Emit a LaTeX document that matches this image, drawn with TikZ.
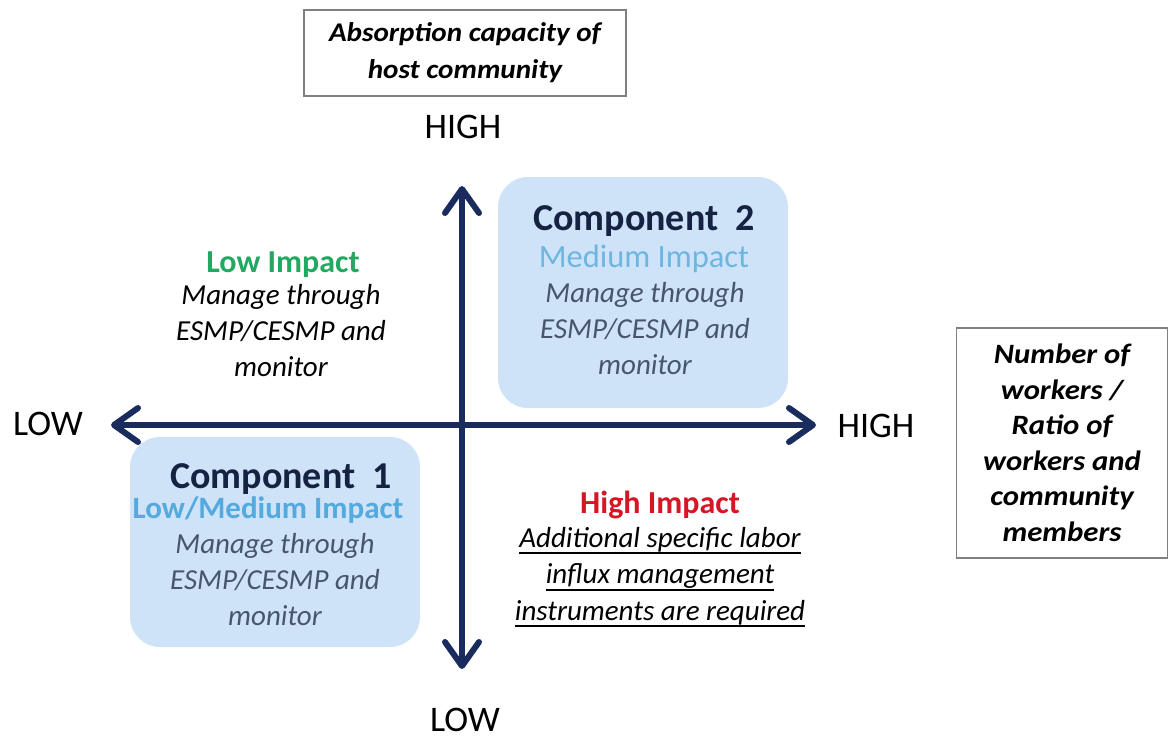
\documentclass[tikz,border=0pt]{standalone}
\usepackage{fontspec}
\setmainfont{Carlito}
\newfontfamily\absfont[FakeStretch=1.08]{Carlito}
\newfontfamily\wrkfont[FakeStretch=1.1]{Carlito}
\usetikzlibrary{arrows.meta}
\definecolor{navy}{RGB}{26,44,94}
\definecolor{titlenavy}{RGB}{22,34,66}
\definecolor{boxfill}{RGB}{206,226,248}
\definecolor{lightimp}{RGB}{110,182,224}
\definecolor{midimp}{RGB}{84,170,222}
\definecolor{descgray}{RGB}{72,86,108}
\definecolor{lowgreen}{RGB}{34,168,96}
\definecolor{highred}{RGB}{214,22,36}
\definecolor{framegray}{RGB}{128,128,128}
\newcommand{\myul}[1]{\setbox0\hbox{#1}\rlap{\rule[-7pt]{\wd0}{1.8pt}}\box0}
\begin{document}
\begin{tikzpicture}[x=1pt,y=-1pt,
  axis/.style={line width=6pt, draw=navy, line cap=round,
    {Straight Barb[length=24pt,width=34pt,line join=round,line cap=round]}-{Straight Barb[length=24pt,width=34pt,line join=round,line cap=round]}},
  axislabel/.style={anchor=base, inner sep=0pt, font=\fontsize{36}{40}\selectfont},
  framebox/.style={draw=framegray, line width=1.5pt, fill=white, align=center, inner sep=0pt},
  compbox/.style={fill=boxfill, draw=none, rounded corners=30pt, inner sep=0pt},
  comptitle/.style={anchor=base, inner sep=0pt, text=titlenavy, font=\fontsize{38}{40}\selectfont\bfseries},
  impact/.style={anchor=base, inner sep=0pt},
  desc/.style={align=center, inner sep=0pt}
]
\useasboundingbox (0,0) rectangle (1170,739);

% axes
\coordinate (vtop) at (462,186);
\coordinate (vbot) at (462,669);
\coordinate (hleft) at (111,425);
\coordinate (hright) at (816,425);
\draw[axis] (vbot) -- (vtop);
\draw[axis] (hleft) -- (hright);

% axis labels
\node[axislabel] (hightop) at (463,138) {HIGH};
\node[axislabel] (lowbot) at (465,731) {LOW};
\node[axislabel] (lowleft) at (48,435) {LOW};
\node[axislabel] (highright) at (876,437) {HIGH};

% frame boxes
\node[framebox, minimum width=322pt, minimum height=86pt,
  font=\absfont\fontsize{27}{37}\selectfont\bfseries\itshape] (absorb) at (465,53)
  {Absorption capacity of\\host community};
\node[framebox, minimum width=211pt, minimum height=230pt,
  font=\wrkfont\fontsize{28}{35.5}\selectfont\bfseries\itshape] (workers) at (1062,443)
  {Number of\\workers /\\Ratio of\\workers and\\community\\members};

% component 2
\node[compbox, minimum width=290pt, minimum height=231pt] (comp2box) at (643,292.5) {};
\node[comptitle] (comp2title) at (644,230) {Component\ \ 2};
\node[impact, text=lightimp, font=\fontsize{32.5}{34}\selectfont] (comp2impact) at (644,267) {Medium Impact};
\node[desc, text=descgray, font=\fontsize{29}{36}\selectfont\itshape] (comp2desc) at (645,329)
  {Manage through\\ESMP/CESMP and\\monitor};

% component 1
\node[compbox, minimum width=290pt, minimum height=210pt] (comp1box) at (275,542) {};
\node[comptitle] (comp1title) at (281,488) {Component\ \ 1};
\node[impact, text=midimp, font=\fontsize{31}{34}\selectfont\bfseries] (comp1impact) at (268,518) {Low/Medium Impact};
\node[desc, text=descgray, font=\fontsize{29}{36}\selectfont\itshape] (comp1desc) at (275,580)
  {Manage through\\ESMP/CESMP and\\monitor};

% low impact
\node[impact, text=lowgreen, font=\fontsize{32}{34}\selectfont\bfseries] (lowimp) at (283,272) {Low Impact};
\node[desc, text=black, font=\fontsize{29}{36}\selectfont\itshape] (lowdesc) at (281,331)
  {Manage through\\ESMP/CESMP and\\monitor};

% high impact
\node[impact, text=highred, font=\fontsize{32}{34}\selectfont\bfseries] (highimp) at (660,513) {High Impact};
\node[desc, text=black, font=\fontsize{29}{36.5}\selectfont\itshape] (highdesc) at (660,577)
  {\myul{Additional specific labor}\\\myul{influx management}\\\myul{instruments are required}};
\end{tikzpicture}
\end{document}
